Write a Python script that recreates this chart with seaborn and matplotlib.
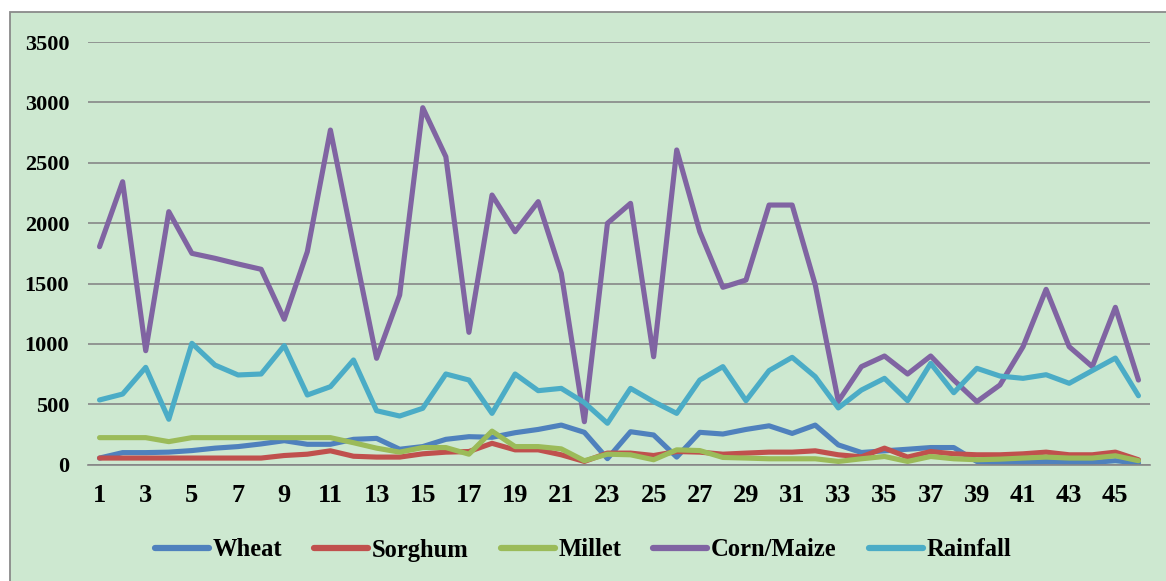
import matplotlib
matplotlib.use("Agg")
import matplotlib.pyplot as plt
from matplotlib.patches import Rectangle
from matplotlib.lines import Line2D
import pandas as pd
import seaborn as sns

periods = list(range(1, 47))

wheat = [55, 100, 100, 104, 117, 137, 150, 172, 199, 169,
         169, 210, 218, 128, 150, 210, 232, 227, 265, 292,
         328, 268, 50, 273, 246, 63, 268, 254, 292, 322,
         259, 328, 164, 101, 115, 128, 142, 142, 27, 14,
         19, 27, 19, 19, 33, 14]
sorghum = [55, 55, 55, 55, 55, 55, 55, 55, 76, 87,
           115, 70, 63, 63, 90, 104, 109, 177, 123, 123,
           82, 27, 96, 96, 76, 109, 104, 87, 96, 104,
           104, 115, 82, 65, 137, 63, 109, 90, 82, 82,
           90, 104, 82, 82, 104, 41]
millet = [224, 224, 224, 191, 224, 224, 224, 224, 224, 224,
          224, 182, 137, 104, 142, 142, 87, 278, 150, 150,
          131, 33, 87, 82, 41, 123, 117, 60, 55, 49,
          49, 49, 27, 49, 68, 27, 68, 49, 41, 46,
          55, 63, 55, 55, 74, 33]
corn = [1805, 2343, 944, 2095, 1750, 1709, 1662, 1618, 1204, 1764,
        2771, 1820, 881, 1405, 2956, 2550, 1096, 2233, 1929, 2178,
        1585, 356, 1999, 2164, 894, 2606, 1929, 1469, 1529, 2150,
        2150, 1490, 525, 812, 900, 751, 900, 701, 522, 660,
        977, 1452, 977, 812, 1303, 701]
rainfall = [536, 585, 806, 376, 1005, 825, 743, 751, 986, 577,
            646, 867, 447, 403, 467, 751, 701, 425, 751, 613,
            632, 514, 343, 632, 522, 425, 701, 812, 530, 779,
            889, 729, 470, 618, 715, 530, 839, 596, 798, 734,
            715, 745, 674, 779, 883, 571]

series_names = ["Wheat", "Sorghum", "Millet", "Corn/Maize", "Rainfall"]
series_values = [wheat, sorghum, millet, corn, rainfall]
colors = ["#4F81BD", "#C0504D", "#9BBB59", "#8064A2", "#4BACC6"]
y_ticks = [0, 500, 1000, 1500, 2000, 2500, 3000, 3500]

df = pd.concat(
    [pd.DataFrame({"period": periods, "value": v, "crop": n})
     for n, v in zip(series_names, series_values)],
    ignore_index=True,
)

sns.set_style("white")
plt.rcParams["font.family"] = ["Liberation Serif", "DejaVu Serif"]
plt.rcParams["font.weight"] = "bold"
plt.rcParams["text.color"] = "black"
plt.rcParams["xtick.color"] = "black"
plt.rcParams["ytick.color"] = "black"

bg = "#CDE8D0"
grid_col = "#878787"

fig = plt.figure(figsize=(11.66, 5.81), dpi=100, facecolor="white")
# chart area box, cut off at right and bottom like the reference
fig.patches.append(Rectangle((10 / 1166, -0.05), 1.1, 1 - 12 / 581 + 0.05,
                             transform=fig.transFigure, facecolor=bg,
                             edgecolor="#8A8A8A", linewidth=1.3, zorder=-10))

ax = fig.add_axes([88 / 1166, 1 - 464.7 / 581, (1150 - 88) / 1166, (464.7 - 42) / 581])
ax.set_zorder(1)
ax.patch.set_visible(False)

sns.lineplot(data=df, x="period", y="value", hue="crop", hue_order=series_names,
             palette=colors, linewidth=3.7, ax=ax, legend=False,
             solid_capstyle="round", solid_joinstyle="round")

ax.set_xlim(0.5, 46.5)
ax.set_ylim(0, 3500)
ax.set_yticks(y_ticks)
ax.set_yticklabels([str(t) for t in y_ticks], fontsize=16, fontweight="bold")
ax.set_xticks(periods[::2])
ax.set_xticklabels([str(p) for p in periods[::2]], fontsize=19, fontweight="bold")
ax.tick_params(axis="y", length=0, pad=13.5)
ax.tick_params(axis="x", length=0, pad=14)
ax.set_xlabel("")
ax.set_ylabel("")
ax.yaxis.grid(True, color=grid_col, linewidth=1.2)
ax.set_axisbelow(True)
for s in ["top", "right", "left"]:
    ax.spines[s].set_visible(False)
ax.spines["bottom"].set_color(grid_col)
ax.spines["bottom"].set_linewidth(1.2)

handles = [Line2D([0], [0], color=c, linewidth=4.5, solid_capstyle="round")
           for c in colors]
fig.legend(handles, series_names, loc="center", bbox_to_anchor=(0.5, 1 - 550 / 581),
           ncol=5, frameon=False, prop={"size": 17.7, "weight": "bold"},
           handlelength=2.2, handletextpad=0.15, columnspacing=1.3)

fig.savefig("out.png", dpi=100, facecolor="white")
